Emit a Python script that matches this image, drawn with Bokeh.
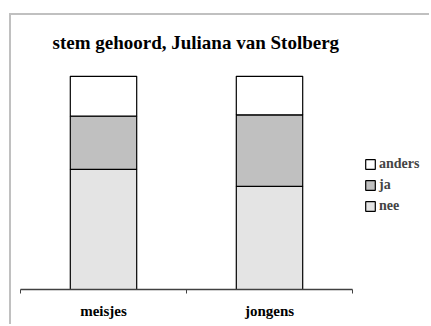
from bokeh.plotting import figure
from bokeh.models import (ColumnDataSource, FixedTicker, Legend, LegendItem,
                          Range1d)
from bokeh.embed import file_html
from bokeh.resources import INLINE

# Answers (percent) per group
categories = ["meisjes", "jongens"]
nee = [56.3, 48.4]
ja = [25.0, 33.5]
anders = [18.7, 18.1]

series = ["nee", "ja", "anders"]

xpos = [i + 0.5 for i in range(len(categories))]
source = ColumnDataSource(dict(x=xpos, nee=nee, ja=ja, anders=anders))

# layout constants (pixels)
W, H = 420, 311
left, top, bottom = 9, 45, 37
axis_px = 332                      # pixel length of the category axis
n = len(categories)
x_end = n * (W - left) / axis_px   # frame runs to the right edge, legend sits there

p = figure(width=W, height=H, output_backend="svg", toolbar_location=None,
           x_range=Range1d(0, x_end), y_range=Range1d(0, 107.4),
           min_border_left=left, min_border_right=0, min_border_top=top,
           min_border_bottom=bottom, y_axis_location=None)
p.margin = (13, 0, 0, 9)
p.styles = {"border-left": "2px solid #c0c0c0", "border-top": "2px solid #c0c0c0"}

p.title.text = "stem gehoord, Juliana van Stolberg"
p.title.align = "left"
p.title.offset = 32
p.title.text_font = "Liberation Serif"
p.title.text_font_size = "19px"
p.title.text_font_style = "bold"
p.title.text_color = "black"
p.title.standoff = 16

p.outline_line_color = None
p.xgrid.visible = False
p.ygrid.visible = False
p.background_fill_color = "white"
p.border_fill_color = "white"

renderers = p.vbar_stack(
    series, x="x", width=0.4, source=source,
    fill_color=["#e4e4e4", "#c0c0c0", "white"],
    hatch_pattern=["checker", " ", " "],
    hatch_color="white", hatch_scale=2, hatch_weight=1,
    line_color="black", line_width=1.2,
)

# x axis: labels centred under the bars, tick marks between groups
ax = p.xaxis[0]
ax.bounds = (0, n)
ax.ticker = FixedTicker(ticks=xpos, minor_ticks=list(range(n + 1)))
ax.major_label_overrides = {x: c for x, c in zip(xpos, categories)}
ax.major_tick_out = 0
ax.major_tick_in = 0
ax.minor_tick_out = 4
ax.minor_tick_in = 0
ax.minor_tick_line_color = "#404040"
ax.axis_line_color = "#404040"
ax.axis_line_width = 1.5
ax.major_label_text_font = "Liberation Serif"
ax.major_label_text_font_style = "bold"
ax.major_label_text_font_size = "15px"
ax.major_label_text_color = "black"
ax.major_label_standoff = 9

items = [LegendItem(label=s, renderers=[r]) for s, r in zip(series, renderers)]
legend = Legend(items=list(reversed(items)), location=(344, 75),
                padding=0, margin=0, spacing=5,
                glyph_width=12, glyph_height=12, label_height=12,
                label_standoff=3, border_line_color=None,
                background_fill_alpha=0,
                label_text_font="Liberation Serif",
                label_text_font_style="bold",
                label_text_font_size="14px")
p.add_layout(legend)

open("out.html", "w").write(file_html(p, INLINE))
